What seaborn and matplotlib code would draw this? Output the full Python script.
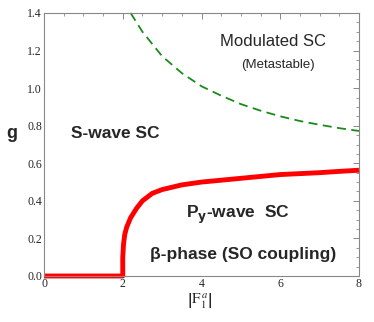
import numpy as np
import pandas as pd
import matplotlib
matplotlib.use("Agg")
import matplotlib.pyplot as plt
import seaborn as sns
from matplotlib.ticker import MultipleLocator, FuncFormatter

# Data
red_x = [0, 2, 2, 2.02, 2.05, 2.1, 2.2, 2.35, 2.5, 2.75, 3, 3.5, 4, 4.5, 5, 5.5, 6, 6.5, 7, 7.5, 8]
red_g = [0, 0, 0.10, 0.17, 0.22, 0.26, 0.31, 0.36, 0.40, 0.44, 0.46, 0.485, 0.50, 0.51, 0.52, 0.53, 0.54, 0.545, 0.55, 0.557, 0.563]
green_x = [2.2, 2.5, 3, 3.5, 4, 4.5, 5, 5.5, 6, 6.5, 7, 7.5, 8]
green_g = [1.40, 1.30, 1.17, 1.08, 1.01, 0.96, 0.915, 0.88, 0.85, 0.825, 0.805, 0.787, 0.772]

sns.set_style("white")

fig = plt.figure(figsize=(3.74, 3.22), dpi=100)
ax = fig.add_axes([44/374, 46/322, 315/374, 263/322])

red_df = pd.DataFrame({"x": red_x, "g": red_g})
green_df = pd.DataFrame({"x": green_x, "g": green_g})
sns.lineplot(data=red_df, x="x", y="g", ax=ax, color="#ff0000", lw=3.5, sort=False, estimator=None)
sns.lineplot(data=green_df, x="x", y="g", ax=ax, color="#1a8a1a", lw=1.3, sort=False, estimator=None,
             linestyle=(0, (5, 3)))
for l in ax.get_lines():
    l.set_clip_on(False)
    l.set_solid_capstyle("butt")

ax.set_xlim(0, 8)
ax.set_ylim(0, 1.4)
ax.xaxis.set_major_locator(MultipleLocator(2))
ax.xaxis.set_minor_locator(MultipleLocator(0.5))
ax.yaxis.set_major_locator(MultipleLocator(0.2))
ax.yaxis.set_minor_locator(MultipleLocator(0.05))
serif = "Liberation Serif"
for s in ax.spines.values():
    s.set_color("#888888")
    s.set_linewidth(0.8)
ax.tick_params(which="both", direction="in", color="#888888", top=True, right=True,
               labelsize=8.5, pad=1.5)
ax.tick_params(which="major", length=4, width=0.7)
ax.tick_params(which="minor", length=2, width=0.6)
ax.xaxis.set_major_formatter(FuncFormatter(lambda v, p: f"{int(v)}"))
ax.yaxis.set_major_formatter(FuncFormatter(lambda v, p: f"{v:.1f}"))
for lab in ax.get_xticklabels() + ax.get_yticklabels():
    lab.set_family(serif)

ax.set_xlabel("")
ax.set_ylabel("")
fig.text(12/374, 1 - 133/322, "g", fontsize=13, fontweight="bold", family="Liberation Sans",
         ha="center", va="center")
fig.text(200/374, 1 - 300/322, r"$\left|\mathrm{F}_1^{\,a}\right|$", fontsize=11,
         ha="center", va="center", math_fontfamily="stix")

kw = dict(family="Liberation Sans", ha="center", va="center", xycoords="figure fraction")
ax.annotate("Modulated SC", xy=(273/374, 1 - 42/322), fontsize=12, **kw)
ax.annotate("(Metastable)", xy=(278/374, 1 - 65/322), fontsize=9.5, **kw)
ax.annotate("S-wave SC", xy=(115/374, 1 - 133/322), fontsize=12.5, fontweight="bold", **kw)
ax.annotate(r"P$_\mathbf{y}$-wave  SC", xy=(238/374, 1 - 215/322),
            fontsize=12.5, fontweight="bold", **kw)
ax.annotate("β-phase (SO coupling)", xy=(243/374, 1 - 254/322),
            fontsize=12.5, fontweight="bold", **kw)

fig.savefig("out.png", dpi=100)
